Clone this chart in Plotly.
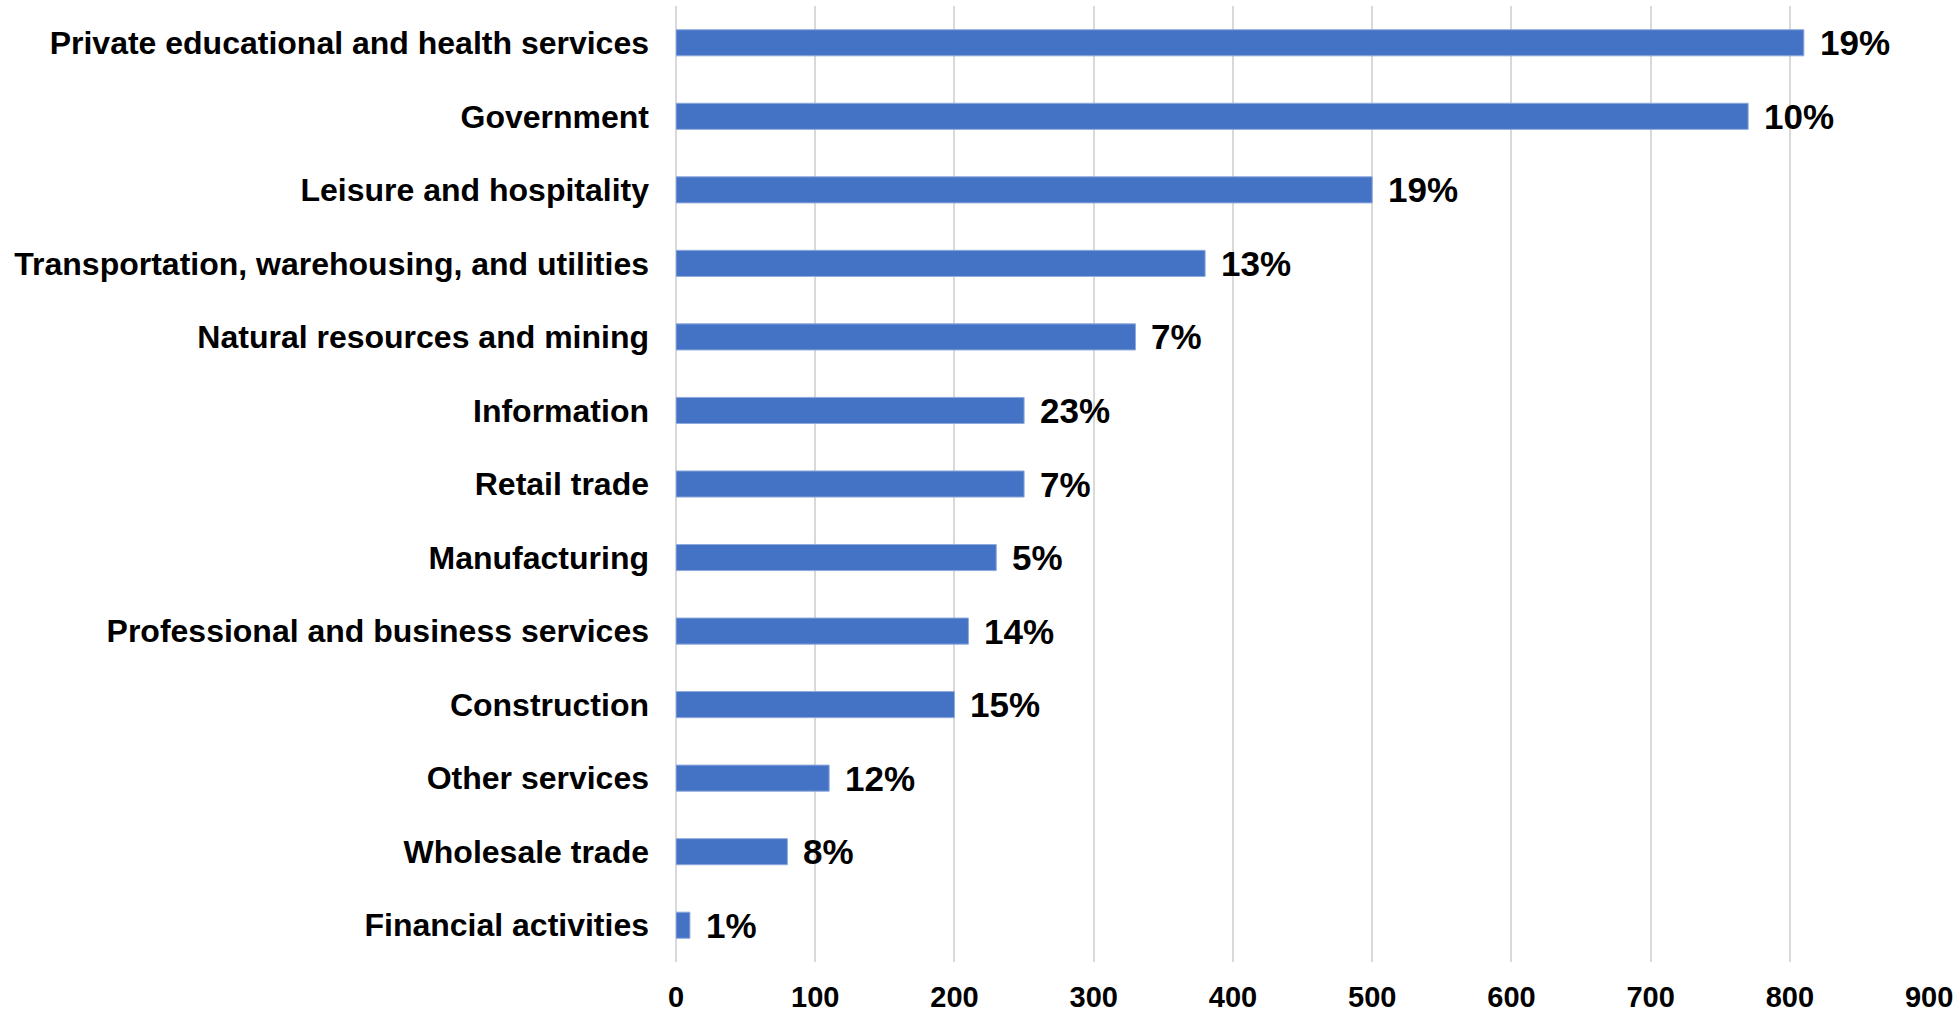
import plotly.graph_objects as go

categories = [
    "Private educational and health services",
    "Government",
    "Leisure and hospitality",
    "Transportation, warehousing, and utilities",
    "Natural resources and mining",
    "Information",
    "Retail trade",
    "Manufacturing",
    "Professional and business services",
    "Construction",
    "Other services",
    "Wholesale trade",
    "Financial activities",
]
values = [810, 770, 500, 380, 330, 250, 250, 230, 210, 200, 110, 80, 10]
pct_labels = ["19%", "10%", "19%", "13%", "7%", "23%", "7%", "5%", "14%", "15%", "12%", "8%", "1%"]
x_ticks = [0, 100, 200, 300, 400, 500, 600, 700, 800, 900]

FONT = "Liberation Sans, Arial, sans-serif"

fig = go.Figure()
fig.add_trace(go.Bar(
    x=values,
    y=categories,
    orientation="h",
    marker=dict(color="#4472C4", line=dict(color="#8FAADC", width=1)),
    width=0.355,
    hoverinfo="skip",
))

for v, c, t in zip(values, categories, pct_labels):
    fig.add_annotation(
        x=v, y=c, text=t, xanchor="left", yanchor="middle",
        xshift=14, showarrow=False,
        font=dict(family=FONT, size=35, color="black", weight="bold"),
    )

fig.update_layout(
    width=1959, height=1012,
    margin=dict(l=676, r=29, t=6, b=50, autoexpand=False),
    paper_bgcolor="white", plot_bgcolor="white",
    showlegend=False,
    bargap=0.645,
)
fig.update_xaxes(
    range=[0, 900.6],
    tickvals=x_ticks,
    ticktext=[str(v) for v in x_ticks],
    showgrid=True, gridcolor="#D9D9D9", gridwidth=2,
    zeroline=True, zerolinecolor="#D9D9D9", zerolinewidth=2,
    showline=False, ticks="",
    automargin=False,
    ticklabelstandoff=15,
    tickfont=dict(family=FONT, size=29, color="black", weight="bold"),
)
fig.update_yaxes(
    categoryorder="array", categoryarray=categories,
    autorange="reversed",
    showgrid=False, zeroline=False, showline=False, ticks="",
    automargin=False,
    ticklabelstandoff=26,
    tickfont=dict(family=FONT, size=32, color="black", weight="bold"),
)

fig.write_html(
    "out.html",
    config={"displayModeBar": False},
    post_script="document.body.style.margin='0';document.body.style.overflow='hidden';",
)
